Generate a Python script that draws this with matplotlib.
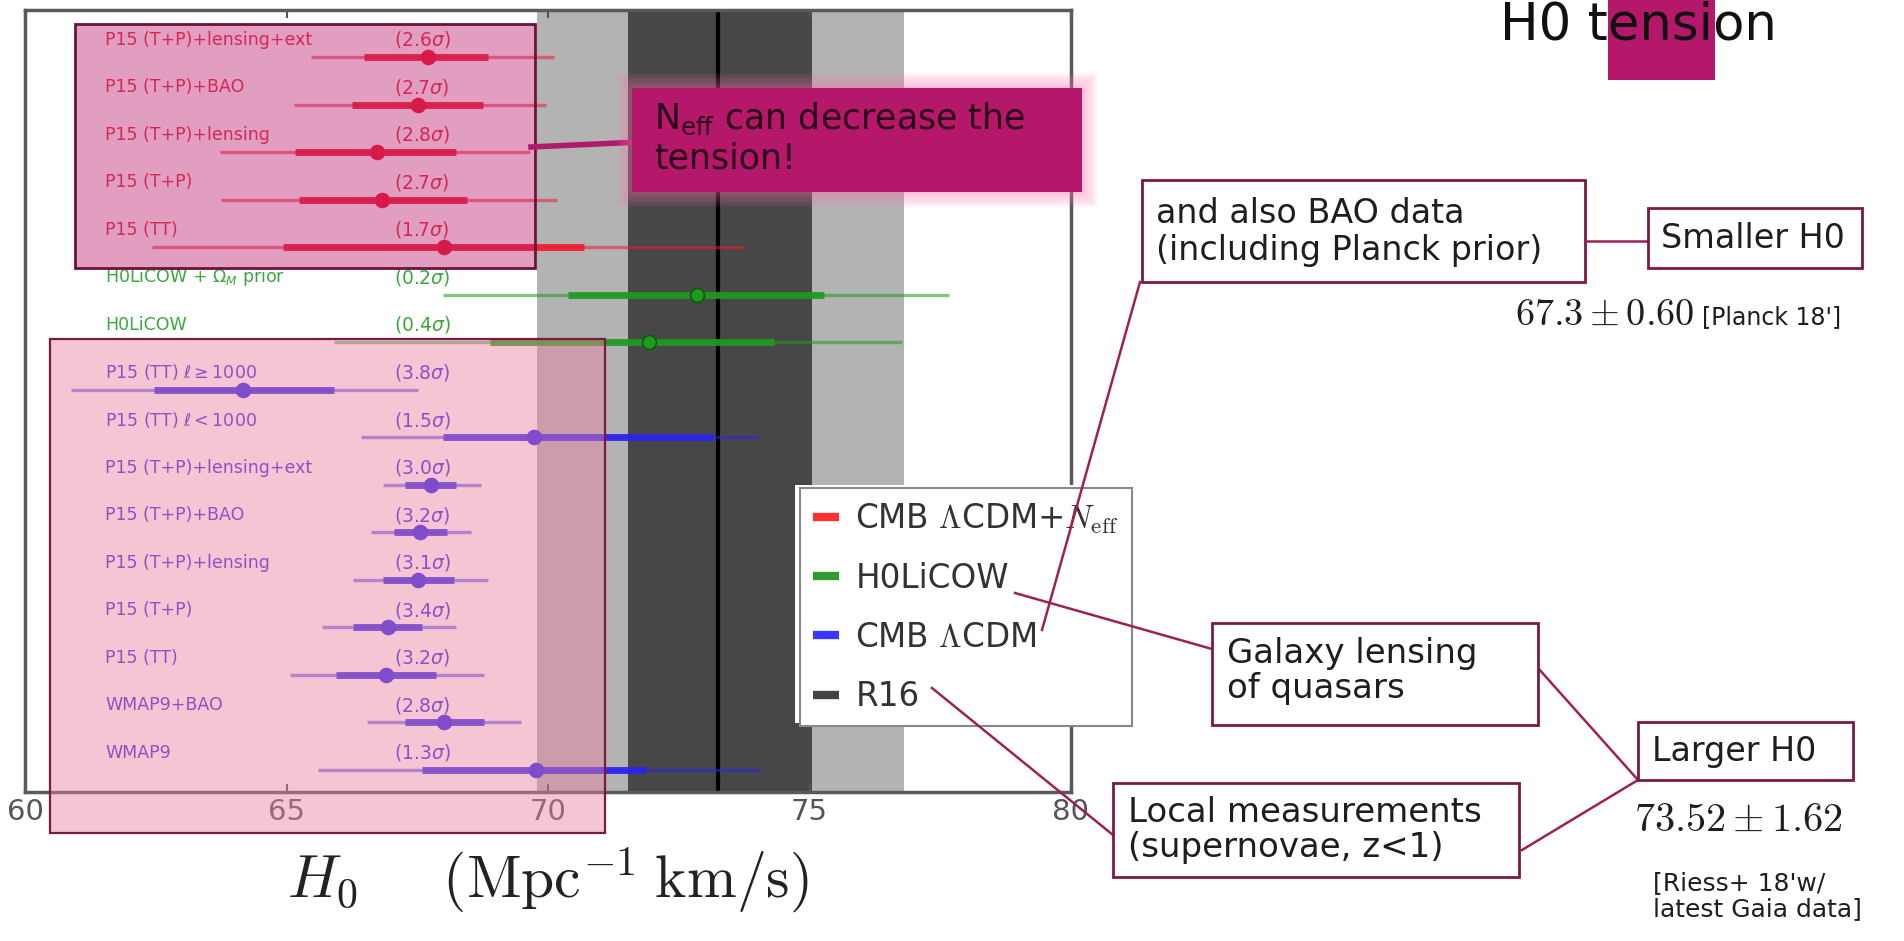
import matplotlib
matplotlib.use("Agg")
import matplotlib.pyplot as plt
from matplotlib.patches import Rectangle
from matplotlib.lines import Line2D
import numpy as np

plt.rcParams['mathtext.fontset'] = 'cm'
plt.rcParams['font.family'] = ['DejaVu Sans']

# ---------------- data ----------------
row_labels = [
    "P15 (T+P)+lensing+ext", "P15 (T+P)+BAO", "P15 (T+P)+lensing", "P15 (T+P)", "P15 (TT)",
    r"H0LiCOW + $\Omega_M$ prior", "H0LiCOW",
    r"P15 (TT) $\ell \geq 1000$", r"P15 (TT) $\ell < 1000$",
    "P15 (T+P)+lensing+ext", "P15 (T+P)+BAO", "P15 (T+P)+lensing", "P15 (T+P)", "P15 (TT)",
    "WMAP9+BAO", "WMAP9",
]
sigma_labels = ["2.6", "2.7", "2.8", "2.7", "1.7", "0.2", "0.4",
                "3.8", "1.5", "3.0", "3.2", "3.1", "3.4", "3.2", "2.8", "1.3"]
row_groups = ["neff"] * 5 + ["holicow"] * 2 + ["lcdm"] * 9
h0_center = [67.70, 67.51, 66.73, 66.82, 68.01, 72.84, 71.93,
             64.16, 69.73, 67.76, 67.55, 67.51, 66.94, 66.90, 68.01, 69.77]
h0_lo68 = [66.49, 66.25, 65.17, 65.23, 64.94, 70.38, 68.89,
           62.47, 67.99, 67.26, 67.05, 66.84, 66.28, 65.94, 67.26, 67.59]
h0_hi68 = [68.85, 68.75, 68.24, 68.45, 70.69, 75.27, 74.33,
           65.90, 73.16, 68.24, 68.07, 68.20, 67.60, 67.85, 68.77, 71.88]
h0_lo95 = [65.46, 65.15, 63.72, 63.75, 62.43, 67.99, 65.90,
           60.88, 66.43, 66.84, 66.61, 66.28, 65.67, 65.06, 66.53, 65.61]
h0_hi95 = [70.12, 69.96, 69.65, 70.17, 73.75, 77.66, 76.76,
           67.51, 74.04, 68.72, 68.52, 68.85, 68.24, 68.77, 69.48, 74.06]

r16_center = 73.26
r16_1sig = [71.53, 75.04]
r16_2sig = [69.79, 76.80]

x_ticks = [60, 65, 70, 75, 80]
legend_labels = [r"CMB $\Lambda$CDM+$N_{\rm eff}$", "H0LiCOW", r"CMB $\Lambda$CDM", "R16"]

group_colors = {"neff": "#f01c30", "holicow": "#1f9a1f", "lcdm": "#2a22f0"}
text_colors = {"neff": "#ee3045", "holicow": "#3aa83a", "lcdm": "#3b2ee8"}

# ---------------- figure ----------------
W, H = 1904, 941
fig = plt.figure(figsize=(W / 100, H / 100), dpi=100)
fig.patch.set_facecolor("white")


def fx(px):
    return px / W


def fy(py):
    return 1 - py / H


ax = fig.add_axes([fx(25), fy(792), fx(1071) - fx(25), fy(10) - fy(792)])
ax.set_xlim(60, 80)
ax.set_ylim(15.47, -0.99)

# R16 bands
ax.axvspan(r16_2sig[0], r16_2sig[1], color="#b3b3b3", lw=0, zorder=0)
ax.axvspan(r16_1sig[0], r16_1sig[1], color="#474747", lw=0, zorder=0.1)
ax.axvline(r16_center, color="black", lw=3, zorder=0.2)

ypos = np.arange(len(row_labels))
for i in range(len(row_labels)):
    g = row_groups[i]
    c = group_colors[g]
    ax.hlines(ypos[i], h0_lo95[i], h0_hi95[i], color=c, lw=2.4, alpha=0.55, zorder=2)
    ax.hlines(ypos[i], h0_lo68[i], h0_hi68[i], color=c, lw=5, alpha=0.9, zorder=2.1)
    mec = "#0b5a0b" if g == "holicow" else c
    ax.plot(h0_center[i], ypos[i], "o", color=c, ms=10, mec=mec, mew=1.2, zorder=3)
    ax.text(61.53, ypos[i] - 0.36, row_labels[i], color=text_colors[g], fontsize=12.5,
            va="center", ha="left", math_fontfamily="dejavusans", zorder=3)
    ax.text(67.05, ypos[i] - 0.36, "(" + sigma_labels[i] + r"$\sigma$)", color=text_colors[g],
            fontsize=13.5, va="center", ha="left", math_fontfamily="dejavusans", zorder=3)

ax.set_xticks(x_ticks)
ax.set_xticklabels([str(t) for t in x_ticks])
ax.set_yticks([])
ax.tick_params(axis="x", direction="in", top=True, length=6, width=1.5, color="#555555",
               labelsize=21, labelcolor="#555555", pad=4)
for s in ax.spines.values():
    s.set_color("#5a5a5a")
    s.set_linewidth(2.5)

ax.set_xlabel(r"$H_0\quad\;\;(\mathrm{Mpc}^{-1}\;\mathrm{km/s})$", fontsize=43, color="#222222")
ax.xaxis.label.set_va("baseline")
ax.xaxis.set_label_coords(fx(548), fy(898), transform=fig.transFigure)

# legend
handles = [Line2D([], [], color=col, lw=6, solid_capstyle="butt")
           for col in ["#ff3030", "#339933", "#3838ff", "#444444"]]
fig.add_artist(Rectangle((fx(795), fy(723)), fx(1136) - fx(795), fy(485) - fy(723),
                         transform=fig.transFigure, facecolor="white", edgecolor="none", zorder=2.9))
leg = fig.legend(handles, legend_labels, loc="upper left",
                 bbox_to_anchor=(fx(800), fy(488)), borderaxespad=0, fontsize=23.5,
                 handlelength=0.8, handletextpad=0.5, labelspacing=0.8, borderpad=0.4,
                 fancybox=False, framealpha=1, edgecolor="#888888", labelcolor="#333333")
leg.get_frame().set_linewidth(1.5)
leg.set_zorder(3)

# ---------------- slide overlays ----------------
def rect(x0, y0, x1, y1, **kw):
    r = Rectangle((fx(x0), fy(y1)), fx(x1) - fx(x0), fy(y0) - fy(y1),
                  transform=fig.transFigure, **kw)
    fig.add_artist(r)
    return r


def seg(x0, y0, x1, y1, **kw):
    l = Line2D([fx(x0), fx(x1)], [fy(y0), fy(y1)], transform=fig.transFigure, **kw)
    fig.add_artist(l)
    return l


def ftext(x, y, s, **kw):
    return fig.text(fx(x), fy(y), s, **kw)


# pink highlight boxes
rect(75, 24, 535, 268, facecolor=(0.72, 0.094, 0.42, 0.42), edgecolor="#6b1238", lw=2, zorder=4)
rect(50, 339, 605, 833, facecolor=(0.914, 0.50, 0.62, 0.45), edgecolor="#7a1a40", lw=1.6, zorder=4)

# callout
magenta = "#b5186b"
seg(531, 147, 640, 142, color="#b01a6a", lw=4, zorder=6.5)
for k in range(7):
    pad = 2 + 2.2 * k
    rect(632 - pad, 88 - pad, 1082 + pad, 192 + pad, facecolor="#ff6fae", alpha=0.07,
         edgecolor="none", zorder=6.6)
rect(632, 88, 1082, 192, facecolor=magenta, edgecolor="none", zorder=7)
ftext(654, 138, "N$_{\\rm eff}$ can decrease the\ntension!", fontsize=25, color="#2a0716",
      va="center", ha="left", linespacing=1.15, math_fontfamily="dejavusans", zorder=8)

# title
rect(1608, 0, 1715, 80, facecolor=magenta, edgecolor="none", zorder=6)
ftext(1500, 39, "H0 tension", fontsize=37, color="#111111", va="baseline", ha="left", zorder=8)

box_edge = "#7a1a45"
line_col = "#9b2257"
txt_col = "#1e1e1e"

# BAO box
rect(1142, 180, 1585, 282, facecolor="white", edgecolor=box_edge, lw=2, zorder=6)
ftext(1156, 232, "and also BAO data\n(including Planck prior)", fontsize=24, color=txt_col,
      va="center", ha="left", linespacing=1.12, zorder=8)
seg(1585, 241, 1648, 241, color=line_col, lw=1.8, zorder=6)
rect(1648, 208, 1862, 268, facecolor="white", edgecolor=box_edge, lw=2, zorder=6)
ftext(1661, 238, "Smaller H0", fontsize=24, color=txt_col, va="center", ha="left", zorder=8)
ftext(1515, 315, r"$67.3 \pm 0.60$", fontsize=27.5, color=txt_col, va="center", ha="left", zorder=8)
ftext(1702, 317, "[Planck 18']", fontsize=17, color=txt_col, va="center", ha="left", zorder=8)

# connector lines
seg(1140, 282, 1042, 630, color=line_col, lw=1.8, zorder=6)
seg(1015, 593, 1212, 649, color=line_col, lw=1.8, zorder=6)
seg(932, 688, 1113, 835, color=line_col, lw=1.8, zorder=6)
seg(1538, 668, 1638, 780, color=line_col, lw=1.8, zorder=6)
seg(1522, 850, 1638, 780, color=line_col, lw=1.8, zorder=6)

# Galaxy lensing box
rect(1212, 623, 1538, 725, facecolor="white", edgecolor=box_edge, lw=2, zorder=6)
ftext(1227, 671, "Galaxy lensing\nof quasars", fontsize=24.5, color=txt_col,
      va="center", ha="left", linespacing=1.1, zorder=8)

# Local measurements box
rect(1113, 783, 1519, 877, facecolor="white", edgecolor=box_edge, lw=2, zorder=6)
ftext(1128, 830, "Local measurements\n(supernovae, z<1)", fontsize=24.5, color=txt_col,
      va="center", ha="left", linespacing=1.1, zorder=8)

# Larger H0 box
rect(1638, 722, 1853, 780, facecolor="white", edgecolor=box_edge, lw=2, zorder=6)
ftext(1652, 752, "Larger H0", fontsize=24, color=txt_col, va="center", ha="left", zorder=8)
ftext(1634, 820, r"$73.52 \pm 1.62$", fontsize=29, color=txt_col, va="center", ha="left", zorder=8)
ftext(1653, 896, "[Riess+ 18'w/\nlatest Gaia data]", fontsize=18, color=txt_col,
      va="center", ha="left", linespacing=1.1, zorder=8)

fig.savefig("out.png", dpi=100)
